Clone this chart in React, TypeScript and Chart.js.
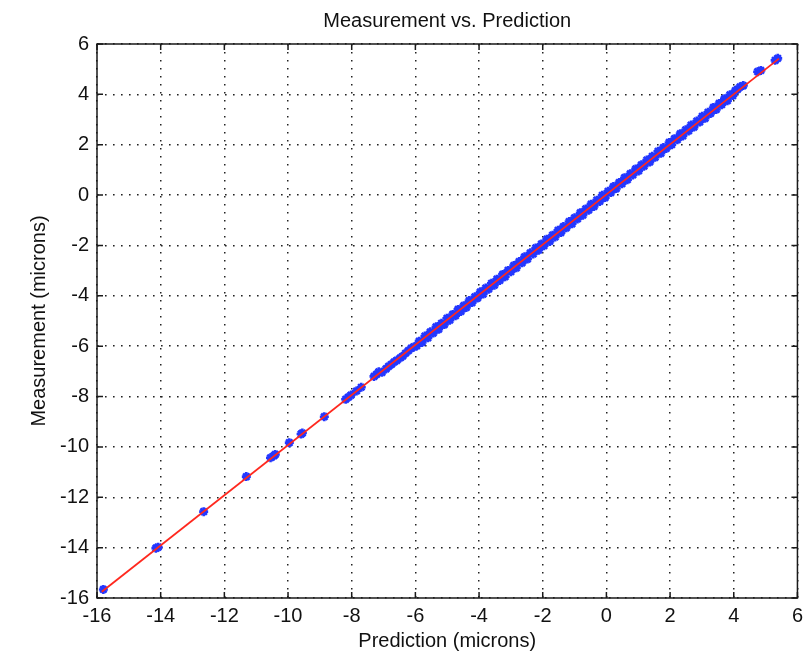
import React, { useEffect, useRef } from "react";
import { Chart, registerables } from "chart.js";

Chart.register(...registerables);

const predX: number[] = [
  -15.8, -14.15, -14.08, -12.65, -11.31, -10.55, -10.45, -10.4, -9.96, -9.59, -9.55, -8.86,
  -8.19, -8.1, -8.02, -7.85, -7.7, -7.3, -7.22,
  -7.15, -7.05, -6.92, -6.84, -6.75, -6.66, -6.58, -6.47, -6.4, -6.31, -6.22, -6.13, -6.05,
  -5.96, -5.88, -5.79, -5.7, -5.61, -5.53, -5.44, -5.35, -5.27, -5.18, -5.09, -5.01, -4.92,
  -4.83, -4.74, -4.66, -4.57, -4.48, -4.4, -4.31, -4.22, -4.13, -4.05, -3.96, -3.87, -3.79,
  -3.7, -3.61, -3.52, -3.44, -3.35, -3.26, -3.18, -3.09, -3.0, -2.91, -2.83, -2.74, -2.65,
  -2.57, -2.48, -2.39, -2.3, -2.22, -2.13, -2.04, -1.96, -1.87, -1.78, -1.69, -1.61, -1.52,
  -1.43, -1.35, -1.26, -1.17, -1.08, -1.0, -0.91, -0.82, -0.74, -0.65, -0.56, -0.48, -0.39,
  -0.3, -0.21, -0.13, -0.04, 0.05, 0.14, 0.22, 0.31, 0.4, 0.49, 0.57, 0.66, 0.75, 0.83, 0.92,
  1.01, 1.1, 1.18, 1.27, 1.36, 1.44, 1.53, 1.62, 1.71, 1.79, 1.88, 1.97, 2.05, 2.14, 2.23,
  2.32, 2.4, 2.49, 2.58, 2.66, 2.75, 2.84, 2.93, 3.01, 3.1, 3.19, 3.27, 3.36, 3.45, 3.54,
  3.62, 3.71, 3.8, 3.88, 3.97, 4.05, 4.12, 4.2, 4.3,
  4.75, 4.85, 5.3, 5.38,
];

const measY: number[] = [
  -15.66, -14.02, -13.98, -12.57, -11.18, -10.43, -10.36, -10.3, -9.83, -9.49, -9.45, -8.8,
  -8.11, -8.02, -7.94, -7.78, -7.63, -7.2, -7.12,
  -7.02, -7.04, -6.9, -6.8, -6.72, -6.62, -6.56, -6.46, -6.4, -6.28, -6.18, -6.08, -6.03,
  -5.99, -5.8, -5.85, -5.6, -5.67, -5.43, -5.48, -5.23, -5.33, -5.09, -5.14, -4.89, -4.97,
  -4.74, -4.79, -4.54, -4.62, -4.39, -4.46, -4.19, -4.27, -4.04, -4.09, -3.84, -3.93, -3.69,
  -3.74, -3.5, -3.58, -3.34, -3.39, -3.15, -3.24, -2.99, -3.04, -2.8, -2.89, -2.64, -2.69,
  -2.45, -2.54, -2.29, -2.34, -2.1, -2.19, -1.94, -2.01, -1.75, -1.84, -1.59, -1.66, -1.4,
  -1.49, -1.25, -1.3, -1.05, -1.14, -0.9, -0.95, -0.7, -0.8, -0.55, -0.6, -0.36, -0.45,
  -0.2, -0.25, -0.01, -0.1, 0.15, 0.1, 0.34, 0.26, 0.5, 0.45, 0.69, 0.61, 0.85, 0.8,
  1.04, 0.96, 1.2, 1.15, 1.39, 1.31, 1.54, 1.5, 1.74, 1.66, 1.89, 1.85, 2.09, 2.0, 2.24,
  2.2, 2.44, 2.35, 2.59, 2.55, 2.78, 2.7, 2.94, 2.9, 3.13, 3.05, 3.29, 3.24, 3.48, 3.4,
  3.64, 3.59, 3.83, 3.75, 3.98, 3.95, 4.15, 4.2, 4.3, 4.35,
  4.9, 4.95, 5.35, 5.43,
];

// Fitted line end points
const fitX: number[] = [-15.85, 5.42];
const fitY: number[] = [-15.75, 5.42];

// Axes
const axisMin = -16;
const axisMax = 6;
const tickStep = 2;

const titleText = "Measurement vs. Prediction";
const xTitleText = "Prediction (microns)";
const yTitleText = "Measurement (microns)";

const FONT = "'Liberation Sans', Arial, Helvetica, sans-serif";
const TEXT_COLOR = "#111111";

const matlabFrame = {
  id: "matlabFrame",
  afterDraw(chart: any) {
    const { ctx, chartArea } = chart;
    const { left, right, top, bottom } = chartArea;
    const xs = chart.scales.x;
    const ys = chart.scales.y;
    ctx.save();
    ctx.strokeStyle = "#1a1a1a";
    ctx.lineWidth = 1.5;
    ctx.setLineDash([]);
    ctx.strokeRect(left, top, right - left, bottom - top);
    const tl = 6;
    ctx.beginPath();
    xs.ticks.forEach((t: any) => {
      const px = xs.getPixelForValue(t.value);
      ctx.moveTo(px, bottom);
      ctx.lineTo(px, bottom - tl);
      ctx.moveTo(px, top);
      ctx.lineTo(px, top + tl);
    });
    ys.ticks.forEach((t: any) => {
      const py = ys.getPixelForValue(t.value);
      ctx.moveTo(left, py);
      ctx.lineTo(left + tl, py);
      ctx.moveTo(right, py);
      ctx.lineTo(right - tl, py);
    });
    ctx.stroke();
    ctx.fillStyle = TEXT_COLOR;
    ctx.font = `20px ${FONT}`;
    ctx.textAlign = "center";
    ctx.textBaseline = "alphabetic";
    ctx.fillText(titleText, (left + right) / 2, 27);
    ctx.restore();
  },
};

export default function App() {
  const canvasRef = useRef<HTMLCanvasElement | null>(null);

  useEffect(() => {
    if (!canvasRef.current) return;
    const fitData = fitX.map((x, i) => ({ x, y: fitY[i] }));
    const pointData = predX.map((x, i) => ({ x, y: measY[i] }));

    const tickFont = { family: FONT, size: 20 };
    const chart = new Chart(canvasRef.current, {
      type: "scatter",
      data: {
        datasets: [
          {
            label: "fit",
            data: fitData,
            showLine: true,
            borderColor: "rgb(255,40,30)",
            borderWidth: 1.8,
            pointRadius: 0,
            fill: false,
          } as any,
          {
            label: "data",
            data: pointData,
            pointStyle: "star",
            pointRadius: 4.5,
            borderWidth: 2.6,
            borderColor: "rgb(35,55,255)",
            backgroundColor: "rgb(35,55,255)",
            showLine: false,
          } as any,
        ],
      },
      options: {
        animation: false,
        responsive: false,
        maintainAspectRatio: false,
        layout: { padding: { left: 0, right: 9, top: 44, bottom: 0 } },
        plugins: {
          legend: { display: false },
          tooltip: { enabled: false },
          title: { display: false },
        },
        scales: {
          x: {
            type: "linear",
            min: axisMin,
            max: axisMax,
            ticks: {
              stepSize: tickStep,
              font: tickFont,
              color: TEXT_COLOR,
              padding: 6,
              maxRotation: 0,
              autoSkip: false,
            },
            grid: { color: "#222222", lineWidth: 1.5, drawTicks: false },
            border: { display: false, dash: [1.6, 6.4] },
            title: {
              display: true,
              text: xTitleText,
              font: tickFont,
              color: TEXT_COLOR,
              padding: { top: 0, bottom: 3 },
            },
            afterFit(scale: any) {
              scale.height = 58;
            },
          },
          y: {
            type: "linear",
            min: axisMin,
            max: axisMax,
            ticks: {
              stepSize: tickStep,
              font: tickFont,
              color: TEXT_COLOR,
              padding: 8,
              autoSkip: false,
            },
            grid: { color: "#222222", lineWidth: 1.5, drawTicks: false },
            border: { display: false, dash: [1.6, 6.4] },
            title: {
              display: true,
              text: yTitleText,
              font: tickFont,
              color: TEXT_COLOR,
              padding: { top: 27, bottom: 0 },
            },
            afterFit(scale: any) {
              scale.width = 97;
            },
          },
        },
      },
      plugins: [matlabFrame],
    } as any);

    return () => {
      chart.destroy();
    };
  }, []);

  return (
    <div style={{ position: "absolute", left: 0, top: 0, width: 809, height: 656, background: "#ffffff" }}>
      <canvas ref={canvasRef} width={809} height={656} style={{ display: "block", width: 809, height: 656 }} />
    </div>
  );
}
